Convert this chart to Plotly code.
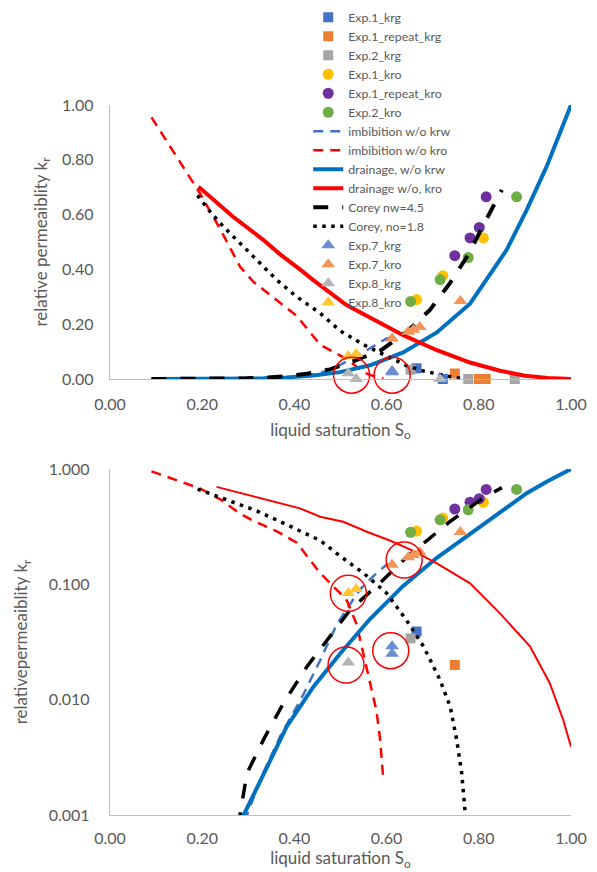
import plotly.graph_objects as go

# ---------------- data ----------------
# measured points: liquid saturation S_o and relative permeability k_r
exp1_krg_s = [0.665, 0.722]
exp1_krg_k = [0.039, 0.0]
exp1r_krg_s = [0.748, 0.800, 0.815]
exp1r_krg_k = [0.020, 0.0, 0.0]
exp2_krg_s = [0.652, 0.777, 0.878]
exp2_krg_k = [0.034, 0.0, 0.0]
exp1_kro_s = [0.665, 0.722, 0.810]
exp1_kro_k = [0.290, 0.377, 0.515]
exp1r_kro_s = [0.748, 0.781, 0.801, 0.816]
exp1r_kro_k = [0.450, 0.515, 0.553, 0.665]
exp2_kro_s = [0.652, 0.716, 0.777, 0.882]
exp2_kro_k = [0.283, 0.363, 0.443, 0.665]
exp7_krg_s = [0.612, 0.612]
exp7_krg_k = [0.029, 0.025]
exp7_kro_s = [0.612, 0.647, 0.658, 0.672, 0.760]
exp7_kro_k = [0.148, 0.172, 0.180, 0.190, 0.285]
exp8_krg_s = [0.517, 0.534, 0.716]
exp8_krg_k = [0.021, 0.0, 0.0]
exp8_kro_s = [0.517, 0.534]
exp8_kro_k = [0.084, 0.091]

# model curves
imb_krw_s = [0.09, 0.20, 0.297, 0.330, 0.369, 0.419, 0.456, 0.492, 0.542, 0.578, 0.600, 0.615]
imb_krw_k = [0.0, 0.0001, 0.001, 0.0022, 0.0048, 0.011, 0.022, 0.045, 0.090, 0.125, 0.148, 0.152]
imb_kro_s = [0.09, 0.195, 0.24, 0.282, 0.311, 0.362, 0.405, 0.456, 0.499, 0.514, 0.535, 0.550, 0.565, 0.578, 0.586, 0.593]
imb_kro_k = [0.955, 0.678, 0.544, 0.41, 0.355, 0.288, 0.23, 0.125, 0.084, 0.072, 0.045, 0.025, 0.014, 0.008, 0.0045, 0.002]
drain_krw_s = [0.09, 0.20, 0.29, 0.333, 0.383, 0.441, 0.499, 0.564, 0.636, 0.709, 0.781, 0.860, 0.904, 0.947, 1.0]
drain_krw_k = [0.0, 0.0002, 0.001, 0.0023, 0.0058, 0.0129, 0.025, 0.050, 0.097, 0.170, 0.275, 0.470, 0.617, 0.775, 1.0]
drain_kro_s = [0.192, 0.267, 0.333, 0.369, 0.412, 0.441, 0.513, 0.564, 0.636, 0.709, 0.781, 0.846, 0.90, 0.95, 1.0]
drain_kro_k = [0.702, 0.592, 0.507, 0.455, 0.400, 0.361, 0.270, 0.225, 0.160, 0.105, 0.060, 0.030, 0.012, 0.004, 0.0]
drain_kro_log_s = [0.231, 0.340, 0.412, 0.456, 0.506, 0.557, 0.607, 0.658, 0.709, 0.781, 0.846, 0.911, 0.954, 0.983, 1.0]
drain_kro_log_k = [0.70, 0.54, 0.456, 0.386, 0.349, 0.286, 0.240, 0.195, 0.152, 0.102, 0.056, 0.029, 0.0139, 0.0067, 0.0039]
corey_w_s = [0.09, 0.20, 0.282, 0.297, 0.333, 0.376, 0.427, 0.477, 0.521, 0.589, 0.644, 0.694, 0.737, 0.777, 0.810, 0.850]
corey_w_k = [0.0, 0.0001, 0.001, 0.0023, 0.0045, 0.0093, 0.0193, 0.035, 0.060, 0.106, 0.173, 0.252, 0.349, 0.453, 0.562, 0.690]
corey_o_s = [0.19, 0.217, 0.246, 0.289, 0.318, 0.362, 0.405, 0.456, 0.499, 0.55, 0.60, 0.643, 0.68, 0.716, 0.738, 0.752, 0.763, 0.77]
corey_o_k = [0.67, 0.611, 0.556, 0.483, 0.434, 0.361, 0.30, 0.24, 0.176, 0.125, 0.084, 0.049, 0.029, 0.0148, 0.0087, 0.0045, 0.0023, 0.0011]

# highlighted points (red circles)
hl_lin_s = [0.524, 0.612]
hl_lin_k = [0.014, 0.014]
hl_log_s = [0.517, 0.512, 0.609, 0.638]
hl_log_k = [0.0836, 0.020, 0.0266, 0.1625]

x_ticks = [0.0, 0.2, 0.4, 0.6, 0.8, 1.0]
y_ticks_lin = [0.0, 0.2, 0.4, 0.6, 0.8, 1.0]
y_ticks_log = [0.001, 0.01, 0.1, 1.0]
y_ticktext_log = ["0.001", "0.010", "0.100", "1.000"]

FONT = "Lato"
GREY = "#595959"

marker_series = [
    ("Exp.1_krg", exp1_krg_s, exp1_krg_k, "square", "#4472C4", 10),
    ("Exp.1_repeat_krg", exp1r_krg_s, exp1r_krg_k, "square", "#ED7D31", 10),
    ("Exp.2_krg", exp2_krg_s, exp2_krg_k, "square", "#A5A5A5", 10),
    ("Exp.1_kro", exp1_kro_s, exp1_kro_k, "circle", "#FFC000", 11),
    ("Exp.1_repeat_kro", exp1r_kro_s, exp1r_kro_k, "circle", "#7030A0", 11),
    ("Exp.2_kro", exp2_kro_s, exp2_kro_k, "circle", "#70AD47", 11),
]
line_series = [
    ("imbibition w/o krw", imb_krw_s, imb_krw_k, imb_krw_s, imb_krw_k, "#4472C4", 2.5, 2.5, "10px,7px"),
    ("imbibition w/o kro", imb_kro_s, imb_kro_k, imb_kro_s, imb_kro_k, "#FF0000", 2.5, 2.5, "10px,7px"),
    ("drainage, w/o krw", drain_krw_s, drain_krw_k, drain_krw_s, drain_krw_k, "#0070C0", 4, 4, "solid"),
    ("drainage w/o, kro", drain_kro_s, drain_kro_k, drain_kro_log_s, drain_kro_log_k, "#FF0000", 4, 2, "solid"),
    ("Corey nw=4.5", corey_w_s, corey_w_k, corey_w_s, corey_w_k, "#000000", 4, 3.5, "15px,14px"),
    ("Corey, no=1.8", corey_o_s, corey_o_k, corey_o_s, corey_o_k, "#000000", 3.5, 3.5, "3.5px,5.5px"),
]
tri_series = [
    ("Exp.7_krg", exp7_krg_s, exp7_krg_k, "triangle-up", "#6A8ED4", 12),
    ("Exp.7_kro", exp7_kro_s, exp7_kro_k, "triangle-up", "#F4955A", 12),
    ("Exp.8_krg", exp8_krg_s, exp8_krg_k, "triangle-up", "#B4B4B4", 12),
    ("Exp.8_kro", exp8_kro_s, exp8_kro_k, "triangle-up", "#FFC832", 12),
]

fig = go.Figure()

def add_markers(spec, xa, ya, show):
    name, s, k, sym, col, size = spec
    fig.add_trace(go.Scatter(
        x=s, y=k, mode="markers", name=name, legendgroup=name, showlegend=show,
        marker=dict(symbol=sym, color=col, size=size, line=dict(width=0)),
        xaxis=xa, yaxis=ya, cliponaxis=False, hoverinfo="skip"))

def add_line(spec, xa, ya, show, log):
    name, s1, k1, s2, k2, col, w1, w2, dash = spec
    s, k, w = (s2, k2, w2) if log else (s1, k1, w1)
    fig.add_trace(go.Scatter(
        x=s, y=k, mode="lines", name=name, legendgroup=name, showlegend=show,
        line=dict(color=col, width=w, dash=dash),
        xaxis=xa, yaxis=ya, cliponaxis=log, hoverinfo="skip"))

for xa, ya, show, log in [("x", "y", True, False), ("x2", "y2", False, True)]:
    for sp in marker_series:
        add_markers(sp, xa, ya, show)
    for sp in line_series:
        add_line(sp, xa, ya, show, log)
    for sp in tri_series:
        add_markers(sp, xa, ya, show)

fig.add_trace(go.Scatter(x=hl_lin_s, y=hl_lin_k, mode="markers", showlegend=False,
                         marker=dict(symbol="circle-open", size=36, color="#FF0000", line=dict(width=1.5)),
                         xaxis="x", yaxis="y", cliponaxis=False, hoverinfo="skip"))
fig.add_trace(go.Scatter(x=hl_log_s, y=hl_log_k, mode="markers", showlegend=False,
                         marker=dict(symbol="circle-open", size=36, color="#FF0000", line=dict(width=1.5)),
                         xaxis="x2", yaxis="y2", cliponaxis=False, hoverinfo="skip"))

axis_common = dict(showgrid=False, zeroline=False, showline=True, linecolor="#BFBFBF", linewidth=1.3,
                   ticks="", tickfont=dict(family=FONT, size=16, color=GREY))
title_font = dict(family=FONT, size=17, color=GREY)

fig.update_layout(
    width=589, height=864,
    margin=dict(l=102, r=26, t=97, b=57, autoexpand=False),
    paper_bgcolor="white", plot_bgcolor="white",
    font=dict(family=FONT, color=GREY),
    showlegend=True,
    legend=dict(x=0.43, xanchor="left", y=1.144, yanchor="top",
                bgcolor="rgba(0,0,0,0)", font=dict(family=FONT, size=12.3, color=GREY),
                traceorder="normal", tracegroupgap=0),
    xaxis=dict(domain=[0, 1], anchor="y", range=[0, 1], tickvals=x_ticks, tickformat=".2f",
               ticklabelstandoff=11,
               title=dict(text="liquid saturation S<sub>o</sub>", font=title_font, standoff=11),
               **axis_common),
    yaxis=dict(domain=[0.6141, 1], anchor="x", range=[0, 1], tickvals=y_ticks_lin, tickformat=".2f",
               ticklabelstandoff=12,
               title=dict(text="relative permeaiblity k<sub>r</sub>", font=title_font, standoff=10),
               **axis_common),
    xaxis2=dict(domain=[0, 1], anchor="y2", range=[0, 1], tickvals=x_ticks, tickformat=".2f",
                ticklabelstandoff=9,
                title=dict(text="liquid saturation S<sub>o</sub>", font=title_font, standoff=1),
                **axis_common),
    yaxis2=dict(domain=[0, 0.4873], anchor="x2", type="log", range=[-3, 0],
                tickvals=y_ticks_log, ticktext=y_ticktext_log,
                ticklabelstandoff=16,
                title=dict(text="relativepermeaiblity k<sub>r</sub>", font=title_font, standoff=16),
                **axis_common),
)

fig.write_html("out.html")
